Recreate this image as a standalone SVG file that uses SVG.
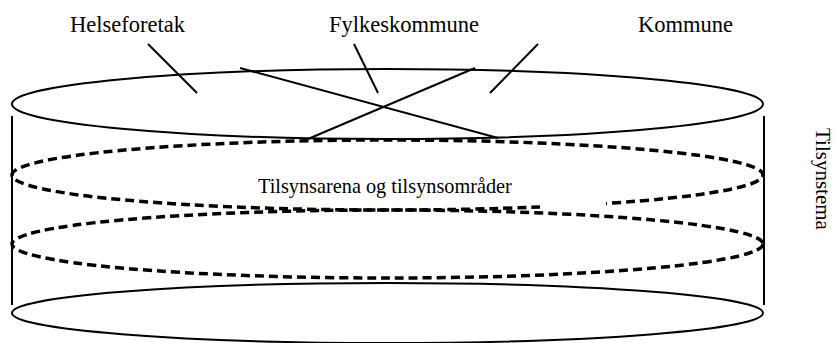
<svg xmlns="http://www.w3.org/2000/svg" width="836" height="343" viewBox="0 0 836 343">
  <style>
    text { font-family: 'Liberation Serif', 'Times New Roman', Tinos, 'DejaVu Serif', serif; fill: #000; }
    .top { font-size: 22.5px; }
    .solid { fill: none; stroke: #000; stroke-width: 2; }
    .dash { fill: none; stroke: #000; stroke-width: 3.5; stroke-dasharray: 9 5; }
    .line { stroke: #000; stroke-width: 2; fill: none; }
  </style>
  <rect width="836" height="343" fill="#fff"/>

  <g id="cylinder-sides">
    <line class="line" x1="12" y1="116" x2="12" y2="305"/>
    <line class="line" x1="764" y1="116" x2="764" y2="305"/>
  </g>

  <g id="top-ellipse">
    <ellipse class="solid" cx="387.5" cy="104" rx="375.5" ry="35"/>
  </g>

  <g id="arena-ellipse-1">
    <path class="dash" d="M540,207 A375.5 35 0 0 1 12,175 A375.5 35 0 0 1 763,175 A375.5 35 0 0 1 606,203.5"/>
  </g>

  <g id="arena-ellipse-2">
    <ellipse class="dash" cx="387.5" cy="244" rx="375.5" ry="34"/>
  </g>

  <g id="bottom-ellipse">
    <ellipse class="solid" cx="387.5" cy="313" rx="375.5" ry="30"/>
  </g>

  <g id="connectors">
    <line class="line" x1="148" y1="44" x2="197" y2="93"/>
    <line class="line" x1="354" y1="44" x2="378" y2="93"/>
    <line class="line" x1="538" y1="44" x2="490" y2="93"/>
    <line class="line" x1="240" y1="68" x2="498" y2="138"/>
    <line class="line" x1="308" y1="139" x2="475" y2="68"/>
  </g>

  <g id="helseforetak">
    <text class="top" x="70" y="31.5">Helseforetak</text>
  </g>
  <g id="fylkeskommune">
    <text class="top" x="329" y="31.5">Fylkeskommune</text>
  </g>
  <g id="kommune">
    <text class="top" x="638" y="31.5">Kommune</text>
  </g>
  <g id="tilsynsarena">
    <text x="258" y="193" font-size="20.3">Tilsynsarena og tilsynsområder</text>
  </g>
  <g id="tilsynstema">
    <text transform="translate(816,128) rotate(90)" x="0" y="0" font-size="21">Tilsynstema</text>
  </g>
</svg>
